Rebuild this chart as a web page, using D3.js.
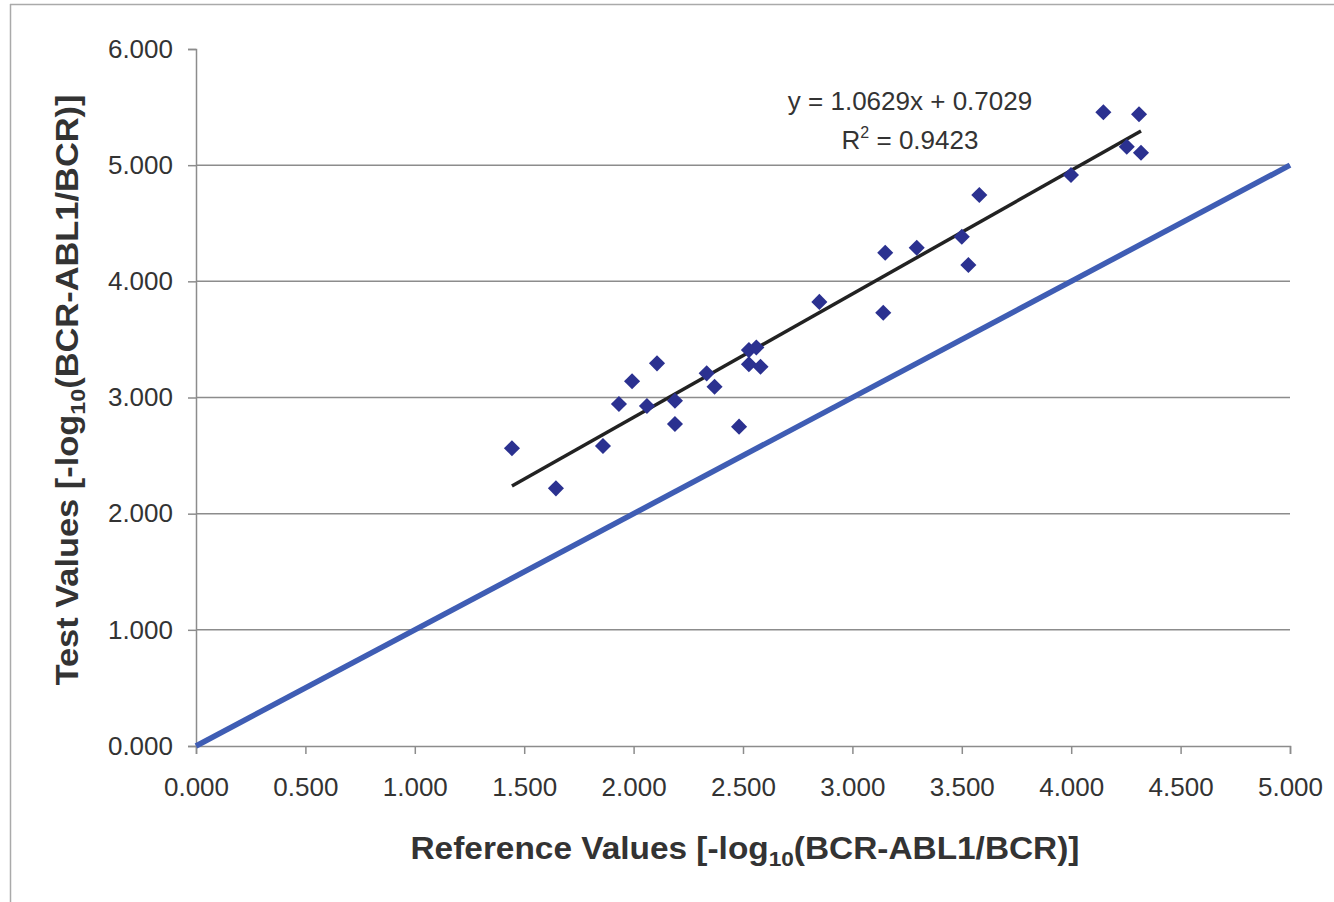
<!DOCTYPE html>
<html lang="en">
    <head>
        <meta charset="utf-8">
        <style>
            body { margin: 0; background: #fff; }
            svg { display: block; font-family: "Liberation Sans", Arial, sans-serif; }
        </style>
    </head>
    <body>
        <script src="https://d3js.org/d3.v7.min.js"></script>
        <script>
            // reference (x) and test (y) values
            var refValues = [1.444, 1.645, 1.860, 1.933, 1.993, 2.061, 2.107, 2.189, 2.189, 2.334,
                             2.370, 2.482, 2.527, 2.561, 2.527, 2.580, 2.849, 3.150, 3.141, 3.294,
                             3.500, 3.530, 3.580, 3.999, 4.147, 4.310, 4.254, 4.319];
            var testValues = [2.563, 2.218, 2.582, 2.944, 3.140, 2.927, 3.294, 2.972, 2.772, 3.208,
                              3.093, 2.749, 3.408, 3.431, 3.286, 3.265, 3.823, 4.246, 3.730, 4.289,
                              4.384, 4.140, 4.743, 4.915, 5.455, 5.438, 5.159, 5.107];
            var xTicks = [0, 0.5, 1, 1.5, 2, 2.5, 3, 3.5, 4, 4.5, 5];
            var yTicks = [0, 1, 2, 3, 4, 5, 6];
            var slope = 1.0629, intercept = 0.7029, rSquared = "0.9423";

            var W = 1334, H = 902;
            var svg = d3.select("body").append("svg").attr("width", W).attr("height", H);

            // outer frame (top and left only show in the picture)
            svg.append("line").attr("x1", 10).attr("x2", W).attr("y1", 4.5).attr("y2", 4.5)
                .attr("stroke", "#aaa").attr("stroke-width", 1.5);
            svg.append("line").attr("x1", 10.5).attr("x2", 10.5).attr("y1", 4).attr("y2", H)
                .attr("stroke", "#aaa").attr("stroke-width", 1.5);

            var x = d3.scaleLinear().domain([0, 5]).range([196, 1290]);
            var y = d3.scaleLinear().domain([0, 6]).range([746, 49]);

            // gridlines
            svg.append("g").selectAll("line")
                .data(yTicks.filter(function(d) { return d > 0 && d < 6; })).enter()
                .append("line")
                .attr("x1", x(0)).attr("x2", x(5))
                .attr("y1", function(d) { return y(d); }).attr("y2", function(d) { return y(d); })
                .attr("stroke", "#8c8c8c").attr("stroke-width", 1.5);

            var fmt = d3.format(".3f");

            var yAxis = svg.append("g").attr("transform", "translate(" + x(0) + ",0)")
                .call(d3.axisLeft(y).tickValues(yTicks).tickFormat(fmt).tickSize(8).tickPadding(15));
            var xAxis = svg.append("g").attr("transform", "translate(0," + y(0) + ")")
                .call(d3.axisBottom(x).tickValues(xTicks).tickFormat(fmt).tickSize(8).tickPadding(24));

            [yAxis, xAxis].forEach(function(a) {
                a.select(".domain").attr("stroke", "#8c8c8c").attr("stroke-width", 1.5);
                a.selectAll(".tick line").attr("stroke", "#8c8c8c").attr("stroke-width", 1.5);
                a.selectAll(".tick text").attr("fill", "#333").attr("font-size", 26)
                    .attr("font-family", "Liberation Sans, Arial, sans-serif");
            });

            // identity line y = x
            svg.append("line")
                .attr("x1", x(0)).attr("y1", y(0)).attr("x2", x(5)).attr("y2", y(5))
                .attr("stroke", "#3f5db4").attr("stroke-width", 5.5);

            // linear trendline
            var xMin = d3.min(refValues), xMax = d3.max(refValues);
            svg.append("line")
                .attr("x1", x(xMin)).attr("y1", y(slope * xMin + intercept))
                .attr("x2", x(xMax)).attr("y2", y(slope * xMax + intercept))
                .attr("stroke", "#222").attr("stroke-width", 3.5);

            // points
            var diamond = d3.symbol().type(d3.symbolDiamond2).size(165);
            svg.append("g").selectAll("path")
                .data(refValues.map(function(d, i) { return [d, testValues[i]]; })).enter()
                .append("path")
                .attr("d", diamond)
                .attr("transform", function(d) { return "translate(" + x(d[0]) + "," + y(d[1]) + ")"; })
                .attr("fill", "#2b3190");

            // equation
            var eq = svg.append("g").attr("fill", "#333").attr("font-size", 26).attr("text-anchor", "middle");
            eq.append("text").attr("x", 910).attr("y", 110)
                .text("y = " + slope + "x + " + intercept);
            var r2 = eq.append("text").attr("x", 910).attr("y", 149);
            r2.append("tspan").text("R");
            r2.append("tspan").attr("font-size", 16).attr("dy", -11).text("2");
            r2.append("tspan").attr("dy", 11).text(" = " + rSquared);

            // axis titles
            function title(sel, main) {
                sel.append("tspan").text(main + " [-log");
                sel.append("tspan").attr("font-size", 21).attr("dy", 7).text("10");
                sel.append("tspan").attr("dy", -7).text("(BCR-ABL1/BCR)]");
            }
            var xt = svg.append("text").attr("x", 745).attr("y", 859)
                .attr("text-anchor", "middle").attr("font-weight", "bold").attr("font-size", 31)
                .attr("textLength", 669).attr("lengthAdjust", "spacingAndGlyphs")
                .attr("fill", "#333");
            title(xt, "Reference Values");
            var yt = svg.append("text").attr("transform", "translate(78,390) rotate(-90)")
                .attr("text-anchor", "middle").attr("font-weight", "bold").attr("font-size", 31)
                .attr("textLength", 591).attr("lengthAdjust", "spacingAndGlyphs")
                .attr("fill", "#333");
            title(yt, "Test Values");
        </script>
    </body>
</html>
